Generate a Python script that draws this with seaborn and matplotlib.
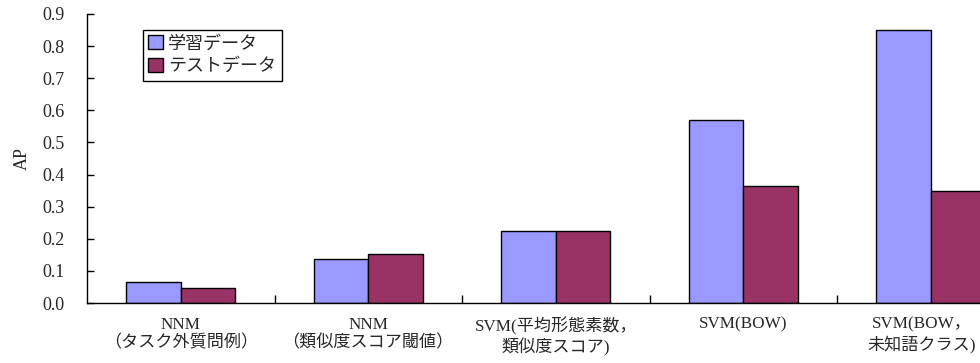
import matplotlib
matplotlib.use("Agg")
import matplotlib.pyplot as plt
import matplotlib.transforms as mtransforms
import seaborn as sns
import pandas as pd
from matplotlib.ticker import FixedLocator, MultipleLocator

sns.set_theme(style="white")
plt.rcParams["font.family"] = ["Liberation Serif", "Noto Sans CJK JP", "DejaVu Sans"]

# Methods compared
methods = [
    "NNM\n（タスク外質問例）",
    "NNM\n（類似度スコア閾値）",
    "SVM(平均形態素数，\n類似度スコア)",
    "SVM(BOW)",
    "SVM(BOW，\n未知語クラス)",
]
series_names = ["学習データ", "テストデータ"]
train_ap = [0.065, 0.137, 0.224, 0.570, 0.850]
test_ap = [0.046, 0.153, 0.224, 0.364, 0.349]
colors = ["#9999FF", "#993366"]

df = pd.DataFrame({
    "method": methods * 2,
    "AP": train_ap + test_ap,
    "set": [series_names[0]] * len(methods) + [series_names[1]] * len(methods),
})

fs = 13

fig = plt.figure(figsize=(9.8, 3.63), dpi=100)
# the plot area runs past the right edge of the figure
ax = fig.add_axes([87 / 980, 1 - 303 / 363, 937.5 / 980, 289 / 363])

sns.barplot(data=df, x="method", y="AP", hue="set", palette=colors,
            saturation=1, width=0.58, edgecolor="black", linewidth=1.0,
            ax=ax, errorbar=None, order=methods, hue_order=series_names)

ax.set_xlim(-0.5, len(methods) - 0.5)
ax.set_ylim(0, 0.9)
ax.yaxis.set_major_locator(MultipleLocator(0.1))
ax.set_yticklabels([f"{v:.1f}" for v in ax.get_yticks()])

for side in ["top", "right"]:
    ax.spines[side].set_visible(False)
for side in ["left", "bottom"]:
    ax.spines[side].set_color("black")
    ax.spines[side].set_linewidth(1.0)

ax.tick_params(axis="y", direction="in", length=5, width=1, color="black",
               pad=16, labelsize=fs, left=True)
ax.tick_params(axis="x", which="major", length=0, pad=10, labelsize=12.3)
ax.xaxis.set_minor_locator(FixedLocator([i + 0.5 for i in range(len(methods))]))
ax.tick_params(axis="x", which="minor", direction="in", length=6, width=1,
               color="black", bottom=True)
xlabels = ax.get_xticklabels()
for lbl in xlabels:
    lbl.set_linespacing(1.2)
# nudge the rightmost label so it stays inside the figure
shift = mtransforms.ScaledTranslation(-9 / 100, 0, fig.dpi_scale_trans)
xlabels[-1].set_transform(xlabels[-1].get_transform() + shift)

ax.set_xlabel("")
ax.set_ylabel("AP", fontsize=fs, labelpad=8)

leg = ax.legend(loc="upper left", bbox_to_anchor=(0.0597, 0.945),
                borderaxespad=0, fancybox=False, frameon=True,
                edgecolor="black", fontsize=fs, handlelength=0.8,
                handleheight=0.8, handletextpad=0.3, labelspacing=0.3,
                borderpad=0.3, framealpha=1)
leg.get_frame().set_linewidth(1.0)

fig.savefig("out.png", dpi=100)
